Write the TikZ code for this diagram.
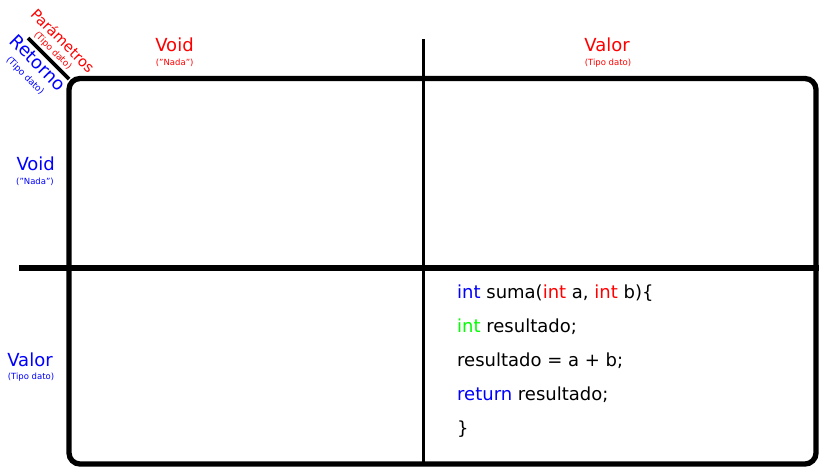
\documentclass[tikz,border=0pt]{standalone}
\usepackage{fontspec}
\setmainfont{DejaVu Sans}
\definecolor{lblred}{RGB}{255,0,0}
\definecolor{lblblue}{RGB}{0,0,255}
\definecolor{lblgreen}{RGB}{0,255,0}
\tikzset{
  big/.style={inner sep=0pt, anchor=base, font=\fontsize{18}{20}\selectfont},
  small/.style={inner sep=0pt, anchor=base, font=\fontsize{8.5}{10}\selectfont},
  codeline/.style={inner sep=0pt, anchor=base west, font=\fontsize{18}{20}\selectfont},
  frame/.style={line width=5.3pt, rounded corners=11pt},
  gridline/.style={line width=5.3pt},
  midline/.style={line width=3.4pt},
  diagline/.style={line width=3.6pt},
  diaglabel/.style={inner sep=0pt, rotate=-45}
}
\begin{document}
\begin{tikzpicture}[x=1pt,y=-1pt]
\useasboundingbox (0,0) rectangle (820,469);
% frame
\draw[frame] (69,78.5) rectangle (816,464);
% grid lines
\coordinate (hl) at (19,268);
\coordinate (hr) at (818.5,268);
\coordinate (vt) at (423.5,39);
\coordinate (vb) at (423.5,464);
\draw[gridline] (hl) -- (hr);
\draw[midline] (vt) -- (vb);
% diagonal
\coordinate (d1) at (28,38);
\coordinate (d2) at (69,79);
\draw[diagline] (d1) -- (d2);
% diagonal labels
\node[diaglabel, text=lblred, font=\fontsize{14.5}{16}\selectfont] (param) at (63,40.5) {Parámetros};
\node[diaglabel, text=lblred, font=\fontsize{9}{10}\selectfont] (paramsub) at (52.7,50.7) {(Tipo dato)};
\node[diaglabel, text=lblblue, font=\fontsize{18}{20}\selectfont] (ret) at (38.3,62.8) {Retorno};
\node[diaglabel, text=lblblue, font=\fontsize{9}{10}\selectfont] (retsub) at (25,76) {(Tipo dato)};
% column headers
\node[big, text=lblred] (cvoid) at (174.5,51) {Void};
\node[small, text=lblred] (cvoids) at (174.7,65) {("Nada")};
\node[big, text=lblred] (cval) at (607,51) {Valor};
\node[small, text=lblred] (cvals) at (608,65) {(Tipo dato)};
% row headers
\node[big, text=lblblue] (rvoid) at (35.7,170) {Void};
\node[small, text=lblblue] (rvoids) at (35,184) {("Nada")};
\node[big, text=lblblue] (rval) at (30,366) {Valor};
\node[small, text=lblblue] (rvals) at (31,379.5) {(Tipo dato)};
% code
\node[codeline] (c1) at (457,298) {\textcolor{lblblue}{int} suma(\textcolor{lblred}{int} a, \textcolor{lblred}{int} b)\{};
\node[codeline] (c2) at (457,332.5) {\textcolor{lblgreen}{int} resultado;};
\node[codeline] (c3) at (457,366.5) {resultado = a + b;};
\node[codeline] (c4) at (457,400) {\textcolor{lblblue}{return} resultado;};
\node[codeline] (c5) at (457,434) {\}};
\end{tikzpicture}
\end{document}
